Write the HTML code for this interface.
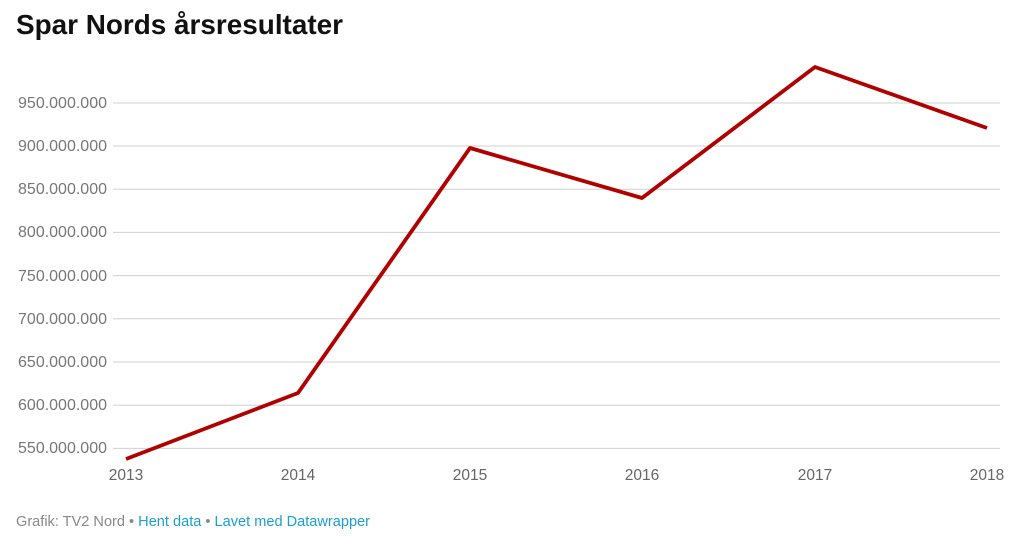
<!DOCTYPE html>
<html><head><meta charset="utf-8"><style>
body{margin:0;background:#fff;width:1018px;height:543px;overflow:hidden;font-family:"Liberation Sans",sans-serif}
</style></head><body>
<svg width="1018" height="543" xmlns="http://www.w3.org/2000/svg" font-family="Liberation Sans, sans-serif">
<text x="16" y="34" font-size="28" font-weight="bold" fill="#111" textLength="327" lengthAdjust="spacingAndGlyphs">Spar Nords årsresultater</text>
<g stroke="#d0d0d0" stroke-width="1">
<line x1="113" x2="1000" y1="103" y2="103"/>
<line x1="113" x2="1000" y1="146" y2="146"/>
<line x1="113" x2="1000" y1="189.2" y2="189.2"/>
<line x1="113" x2="1000" y1="232.4" y2="232.4"/>
<line x1="113" x2="1000" y1="275.6" y2="275.6"/>
<line x1="113" x2="1000" y1="318.8" y2="318.8"/>
<line x1="113" x2="1000" y1="362" y2="362"/>
<line x1="113" x2="1000" y1="405.2" y2="405.2"/>
<line x1="113" x2="1000" y1="448.4" y2="448.4"/>
</g>
<g font-size="16" fill="#777" text-anchor="end">
<text x="107" y="108">950.000.000</text>
<text x="107" y="151">900.000.000</text>
<text x="107" y="194">850.000.000</text>
<text x="107" y="237">800.000.000</text>
<text x="107" y="281">750.000.000</text>
<text x="107" y="324">700.000.000</text>
<text x="107" y="367">650.000.000</text>
<text x="107" y="410">600.000.000</text>
<text x="107" y="453">550.000.000</text>
</g>
<g font-size="15.5" fill="#666" text-anchor="middle">
<text x="126" y="480">2013</text>
<text x="298" y="480">2014</text>
<text x="470" y="480">2015</text>
<text x="642" y="480">2016</text>
<text x="815" y="480">2017</text>
<text x="987" y="480">2018</text>
</g>
<polyline points="126,459 298,393 470,148 642,198 815,67 987,128" fill="none" stroke="#b00000" stroke-width="3.8" stroke-linejoin="round"/>
<text x="16" y="526" font-size="14.5" fill="#888" textLength="354" lengthAdjust="spacingAndGlyphs">Grafik: TV2 Nord • <tspan fill="#1a9ed4">Hent data</tspan> • <tspan fill="#1a9ed4">Lavet med Datawrapper</tspan></text>
</svg>
</body></html>
